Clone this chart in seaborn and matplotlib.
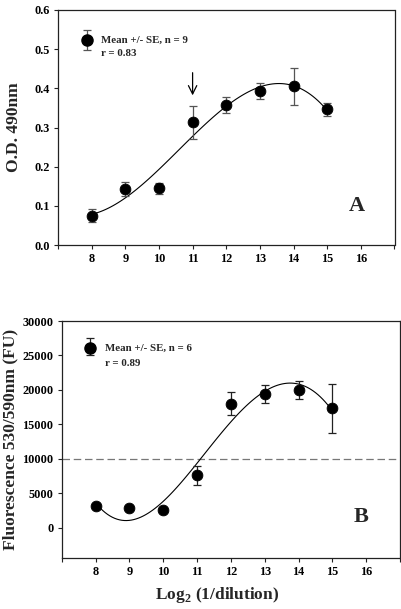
import numpy as np
import pandas as pd
import matplotlib
matplotlib.use("Agg")
import matplotlib.pyplot as plt
import seaborn as sns

# ---- data ----
dilution = [8, 9, 10, 11, 12, 13, 14, 15]
od_mean = [0.075, 0.143, 0.145, 0.313, 0.357, 0.393, 0.405, 0.346]
od_se = [0.016, 0.018, 0.014, 0.042, 0.020, 0.020, 0.047, 0.016]
fl_mean = [3100, 2800, 2600, 7600, 18000, 19400, 20000, 17300]
fl_se = [300, 300, 300, 1400, 1700, 1350, 1300, 3500]
x_ticks = [7, 8, 9, 10, 11, 12, 13, 14, 15, 16, 17]
x_ticklabels = ["", "8", "9", "10", "11", "12", "13", "14", "15", "16", ""]
od_ticks = [0.0, 0.1, 0.2, 0.3, 0.4, 0.5, 0.6]
fl_ticks = [0, 5000, 10000, 15000, 20000, 25000, 30000]
threshold = 10000
legend_a = ["Mean +/- SE, n = 9", "r = 0.83"]
legend_b = ["Mean +/- SE, n = 6", "r = 0.89"]

df = pd.DataFrame({"x": dilution, "od": od_mean, "od_se": od_se,
                   "fl": fl_mean, "fl_se": fl_se})

sns.set_theme(style="ticks")
plt.rcParams["font.family"] = ["Liberation Serif", "DejaVu Serif"]
plt.rcParams["font.weight"] = "bold"
plt.rcParams["axes.labelweight"] = "bold"
plt.rcParams["mathtext.fontset"] = "custom"
plt.rcParams["mathtext.rm"] = "Liberation Serif:bold"
plt.rcParams["mathtext.bf"] = "Liberation Serif:bold"

fig = plt.figure(figsize=(4.01, 6.09), dpi=100)
axA = fig.add_axes([58 / 401, 1 - 245 / 609, (394.5 - 58) / 401, (245 - 10) / 609])
axB = fig.add_axes([61.7 / 401, 1 - 558 / 609, (400 - 61.7) / 401, (558 - 321) / 609])

tick_fs = 8.8
leg_fs = 7.8
for ax in (axA, axB):
    for s in ax.spines.values():
        s.set_linewidth(0.9)
        s.set_color("#222222")
    ax.tick_params(direction="out", length=3, width=0.8, labelsize=tick_fs,
                   colors="#222222", labelcolor="black", pad=3)
    ax.set_xlim(7, 17)
    ax.set_xticks(x_ticks)
    ax.set_xticklabels(x_ticklabels, fontweight="bold")

# ---- panel A ----
sns.regplot(data=df, x="x", y="od", order=3, ci=None, scatter=False, ax=axA,
            line_kws=dict(color="black", lw=0.8))
axA.errorbar(df["x"], df["od"], yerr=df["od_se"], fmt="none", ecolor="#555555",
             elinewidth=0.9, capsize=3, capthick=0.9, zorder=3)
sns.scatterplot(data=df, x="x", y="od", ax=axA, color="black", s=60,
                edgecolor="black", zorder=4)
axA.set_ylim(0, 0.6)
axA.set_yticks(od_ticks)
axA.set_yticklabels([f"{v:.1f}" for v in od_ticks], fontweight="bold")
axA.set_xlabel("")
axA.set_ylabel("O.D. 490nm", fontsize=12.5, fontweight="bold", labelpad=9)
# legend
axA.errorbar([7.85], [0.523], yerr=[0.025], fmt="o", color="black", ecolor="#555555",
             ms=8, elinewidth=0.9, capsize=3, capthick=0.9)
axA.text(8.27, 0.523, legend_a[0], fontsize=leg_fs, fontweight="bold", va="center")
axA.text(8.27, 0.49, legend_a[1], fontsize=leg_fs, fontweight="bold", va="center")
axA.text(15.88, 0.10, "A", fontsize=16, fontweight="bold", ha="center", va="center")
axA.annotate("", xy=(11, 0.375), xytext=(11, 0.447),
             arrowprops=dict(arrowstyle="->", color="black", lw=0.9,
                             mutation_scale=15))

# ---- panel B ----
axB.axhline(threshold, color="#777777", lw=0.9, ls=(0, (6, 3)), zorder=1)
sns.regplot(data=df, x="x", y="fl", order=4, ci=None, scatter=False, ax=axB,
            line_kws=dict(color="black", lw=0.8))
axB.errorbar(df["x"], df["fl"], yerr=df["fl_se"], fmt="none", ecolor="#222222",
             elinewidth=0.9, capsize=3, capthick=0.9, zorder=3)
sns.scatterplot(data=df, x="x", y="fl", ax=axB, color="black", s=60,
                edgecolor="black", zorder=4)
axB.set_ylim(-4400, 30000)
axB.set_yticks(fl_ticks)
axB.set_yticklabels([str(v) for v in fl_ticks], fontweight="bold")
axB.set_ylabel("Fluorescence 530/590nm (FU)", fontsize=12.5, fontweight="bold", labelpad=3)
axB.set_xlabel("Log$_\\mathbf{2}$ (1/dilution)", fontsize=12.5, fontweight="bold", labelpad=6)
axB.xaxis.set_label_coords(0.46, -0.115)
axB.errorbar([7.83], [26100], yerr=[[1000], [1400]], fmt="o", color="black",
             ecolor="#222222", ms=8, elinewidth=0.9, capsize=3, capthick=0.9)
axB.text(8.27, 26100, legend_b[0], fontsize=leg_fs, fontweight="bold", va="center")
axB.text(8.27, 23800, legend_b[1], fontsize=leg_fs, fontweight="bold", va="center")
axB.text(15.85, 1600, "B", fontsize=16, fontweight="bold", ha="center", va="center")

fig.savefig("out.png", dpi=100)
